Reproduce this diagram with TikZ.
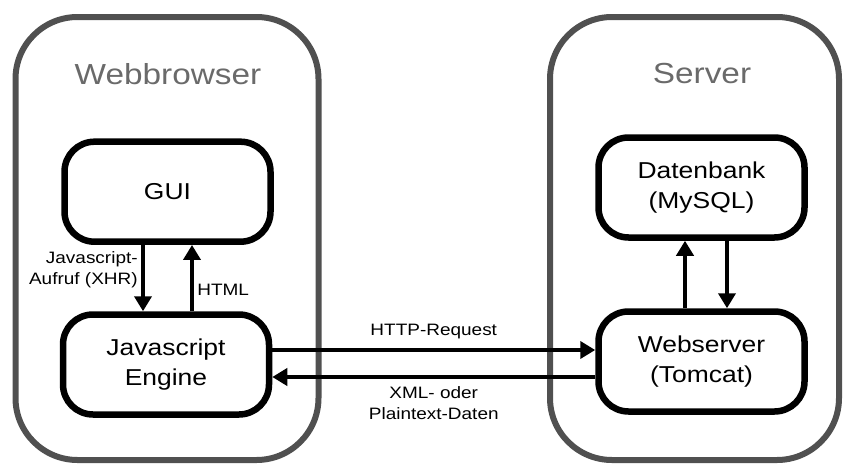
\documentclass[tikz,border=0pt]{standalone}
\usepackage{fontspec}
\setmainfont{Liberation Sans}[FakeStretch=1.15]
\usetikzlibrary{arrows.meta,positioning,calc}

\definecolor{framegray}{HTML}{505050}
\definecolor{titlegray}{HTML}{6A6A6A}

\begin{document}
\begin{tikzpicture}[
  x=1pt, y=-1pt,
  frame/.style={draw=framegray, line width=6pt, rounded corners=62pt},
  title/.style={text=titlegray, font=\fontsize{29}{35}\selectfont},
  comp/.style={
    rectangle, rounded corners=30pt, draw, line width=6.5pt,
    minimum width=206pt, minimum height=100pt,
    align=center, font=\fontsize{23}{30}\selectfont},
  lbl/.style={font=\fontsize{16.5}{21}\selectfont},
  arr/.style={-{Triangle[length=15pt,width=17pt]}, line width=4pt},
]
  \useasboundingbox (0,0) rectangle (843,463);

  % ── Frames for the two sides ─────────────────────────────────────────────
  \draw[frame] (15.5,17) rectangle (318.5,460);
  \draw[frame] (550,17)  rectangle (839,460);
  \node[title] (wbtitle) at (168,74) {Webbrowser};
  \node[title] (svtitle) at (702,74) {Server};

  % ── Components ───────────────────────────────────────────────────────────
  \node[comp] (gui) at (167.5,191.7) {GUI};
  \node[comp] (js)  at (166,364.5)   {Javascript\\Engine};
  \node[comp] (db)  at (701.5,187.5) {Datenbank\\(MySQL)};
  \node[comp] (web) at (701.5,361.5) {Webserver\\(Tomcat)};

  % ── Browser internal arrows ──────────────────────────────────────────────
  \draw[arr] ([xshift=-24.5pt]gui.south) --
      node[lbl, left, align=right, pos=0.37]{Javascript-\\Aufruf (XHR)}
      ([xshift=-24.5pt]gui.south |- js.north);
  \draw[arr] ([xshift=24.5pt]gui.south |- js.north) --
      node[lbl, right, pos=0.33]{HTML}
      ([xshift=24.5pt]gui.south);

  % ── Server internal arrows ───────────────────────────────────────────────
  \draw[arr] ([xshift=-16.5pt]db.south |- web.north) -- ([xshift=-16.5pt]db.south);
  \draw[arr] ([xshift=25.5pt]db.south) -- ([xshift=25.5pt]db.south |- web.north);

  % ── Request / response ───────────────────────────────────────────────────
  \draw[arr] ([yshift=14.5pt]js.east) --
      node[lbl, above=6pt]{HTTP-Request}
      ([yshift=14.5pt]js.east -| web.west);
  \draw[arr] ([yshift=-12.5pt]js.east -| web.west) --
      node[lbl, below=4pt, align=center]{XML- oder\\Plaintext-Daten}
      ([yshift=-12.5pt]js.east);

\end{tikzpicture}
\end{document}
